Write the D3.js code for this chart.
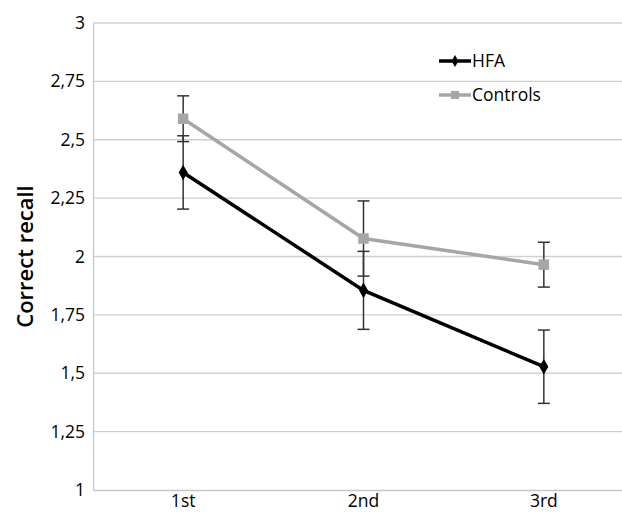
<!DOCTYPE html>
<html lang="en">
<head>
<meta charset="utf-8">
<title>Correct recall</title>
<style>
body{
  margin: 0;
  background: #fff;
}
.tick text{
  font: 17.5px "Open Sans", Lato, sans-serif;
  fill: #000;
}
.grid line{
  stroke: #d0d0d0;
  stroke-width: 1.3;
}
</style>
</head>
<body>
<div id="chart"></div>
<script src="https://d3js.org/d3.v7.min.js"></script>
<script>

// data
const trials = ['1st', '2nd', '3rd'];
const hfa = [2.36, 1.855, 1.528];
const hfaErr = [0.157, 0.167, 0.157];
const controls = [2.59, 2.077, 1.965];
const controlsErr = [0.098, 0.161, 0.096];
const yTicks = [1, 1.25, 1.5, 1.75, 2, 2.25, 2.5, 2.75, 3];

const width = 622;
const height = 512;
const margin = { top: 23, right: -12, bottom: 22, left: 93 };

const svg = d3.select('#chart')
  .append('svg')
  .attr('width', width)
  .attr('height', height);

const g = svg.append('g')
  .attr('transform', 'translate(' + margin.left + ',' + margin.top + ')');

const w = width - margin.left - margin.right;
const h = height - margin.top - margin.bottom;

const xS = d3.scaleBand()
  .domain(trials)
  .range([0, w]);

const yS = d3.scaleLinear()
  .domain([1, 3])
  .range([h, 0]);

const fmt = d => String(d).replace('.', ',');

// gridlines
g.append('g')
  .attr('class', 'grid')
  .selectAll('line')
  .data(yTicks.slice(1))
  .join('line')
  .attr('x1', 0)
  .attr('x2', w)
  .attr('y1', d => yS(d))
  .attr('y2', d => yS(d));

// y axis
const yAxis = g.append('g')
  .call(d3.axisLeft(yS).tickValues(yTicks).tickFormat(fmt).tickSize(0).tickPadding(8));
yAxis.select('.domain').attr('stroke', '#c8c8c8').attr('stroke-width', 1.3);

// x axis
const xAxis = g.append('g')
  .attr('transform', 'translate(0,' + h + ')')
  .call(d3.axisBottom(xS).tickSize(0).tickPadding(5));
xAxis.select('.domain').attr('stroke', '#c8c8c8').attr('stroke-width', 1.3);

// y label
svg.append('text')
  .attr('transform', 'translate(33,' + (margin.top + h / 2) + ') rotate(-90)')
  .attr('text-anchor', 'middle')
  .style('font', '600 22px "Open Sans", Lato, sans-serif')
  .text('Correct recall');

const cx = d => xS(d) + xS.bandwidth() / 2;

const series = [
  { name: 'HFA', vals: hfa, errs: hfaErr, color: '#000', symbol: d3.symbolDiamond, size: 70 },
  { name: 'Controls', vals: controls, errs: controlsErr, color: '#a6a6a6', symbol: d3.symbolSquare, size: 110 }
];

// lines (Controls underneath)
series.slice().reverse().forEach(s => {
  const line = d3.line()
    .x((d, i) => cx(trials[i]))
    .y(d => yS(d));
  g.append('path')
    .datum(s.vals)
    .attr('fill', 'none')
    .attr('stroke', s.color)
    .attr('stroke-width', 3.5)
    .attr('d', line);
});

// error bars
series.forEach(s => {
  const eb = g.append('g')
    .selectAll('g')
    .data(s.vals)
    .join('g')
    .attr('stroke', '#333')
    .attr('stroke-width', 1.5);
  eb.append('line')
    .attr('x1', (d, i) => cx(trials[i]))
    .attr('x2', (d, i) => cx(trials[i]))
    .attr('y1', (d, i) => yS(d + s.errs[i]))
    .attr('y2', (d, i) => yS(d - s.errs[i]));
  [1, -1].forEach(sign => {
    eb.append('line')
      .attr('x1', (d, i) => cx(trials[i]) - 6)
      .attr('x2', (d, i) => cx(trials[i]) + 6)
      .attr('y1', (d, i) => yS(d + sign * s.errs[i]))
      .attr('y2', (d, i) => yS(d + sign * s.errs[i]));
  });
});

// markers
series.forEach(s => {
  g.append('g')
    .selectAll('path')
    .data(s.vals)
    .join('path')
    .attr('d', d3.symbol().type(s.symbol).size(s.size))
    .attr('transform', (d, i) => 'translate(' + cx(trials[i]) + ',' + yS(d) + ')')
    .attr('fill', s.color);
});

// legend
const legend = svg.append('g')
  .attr('transform', 'translate(439,61)');
series.forEach((s, i) => {
  const row = legend.append('g').attr('transform', 'translate(0,' + (i * 34) + ')');
  row.append('line')
    .attr('x1', 0).attr('x2', 32)
    .attr('stroke', s.color)
    .attr('stroke-width', 3.5);
  row.append('path')
    .attr('d', d3.symbol().type(s.symbol).size(s.size * 0.6))
    .attr('transform', 'translate(16,0)')
    .attr('fill', s.color);
  row.append('text')
    .attr('x', 33)
    .attr('y', 6)
    .style('font', '17.5px "Open Sans", Lato, sans-serif')
    .text(s.name);
});

</script>
</body>
</html>
